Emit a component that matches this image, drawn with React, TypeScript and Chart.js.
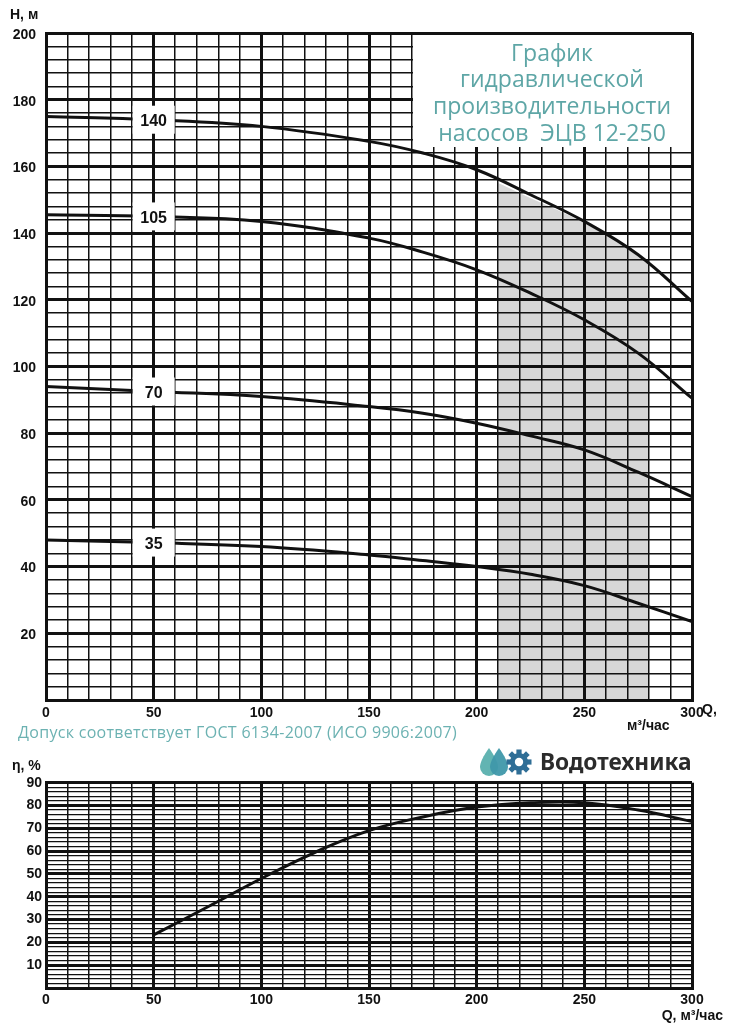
import { useEffect, useRef } from "react"
import { Chart, registerables } from "chart.js"

Chart.register(...registerables)

// Q, м³/час
const flowH = [0, 50, 100, 150, 175, 200, 225, 250, 275, 300]
const head140 = [175, 174, 172, 167.5, 164, 159, 151.5, 143.5, 133.5, 119.5]
const head105 = [145.5, 145, 143.5, 138.5, 134.3, 129, 122, 114, 104, 90.5]
const head70 = [94, 92.5, 91, 88, 86, 83, 79.2, 75, 68.3, 61]
const head35 = [48, 47.2, 46, 43.5, 41.8, 40, 37.7, 34.3, 29, 23.5]
const curveLabels = ["140", "105", "70", "35"]
const labelFlow = 50

// рабочая зона (shaded)
const workFlow = [210, 225, 250, 275, 280]
const workTop = [155, 150.5, 143, 133.5, 131]

// efficiency curve
const flowEta = [50, 75, 100, 125, 150, 175, 200, 225, 250, 275, 300]
const eta = [23.3, 35.5, 48, 59.5, 69, 75, 79.3, 81.2, 81.2, 78, 73]

const qLabels = [0, 50, 100, 150, 200, 250, 300]
const hLabels = [20, 40, 60, 80, 100, 120, 140, 160, 180, 200]
const etaLabels = [10, 20, 30, 40, 50, 60, 70, 80, 90]

const tickFont = { family: "'Liberation Sans', Arial, sans-serif", size: 14, weight: "bold" as const }
const teal = "#5ea6a6"

const toPoints = (xs: number[], ys: number[]) => xs.map((x, i) => ({ x, y: ys[i] }))

function HeadChart() {
  const ref = useRef<HTMLCanvasElement>(null)

  useEffect(() => {
    if (!ref.current) return
    const curves = [head140, head105, head70, head35]
    const li = flowH.indexOf(labelFlow)

    const curveLabelPlugin = {
      id: "curveLabels",
      afterDraw(chart: Chart) {
        const { ctx } = chart
        const xs = chart.scales.x
        const ys = chart.scales.y
        ctx.save()
        curves.forEach((c, i) => {
          const px = xs.getPixelForValue(labelFlow)
          const py = ys.getPixelForValue(c[li])
          ctx.fillStyle = "#fff"
          ctx.fillRect(px - 21, py - 14, 42, 28)
          ctx.fillStyle = "#111"
          ctx.font = "bold 16px 'Liberation Sans', Arial, sans-serif"
          ctx.textAlign = "center"
          ctx.textBaseline = "middle"
          ctx.fillText(curveLabels[i], px, py + 2)
        })
        ctx.restore()
      },
    }

    const line = (data: number[]) => ({
      data: toPoints(flowH, data),
      borderColor: "#111",
      borderWidth: 3,
      pointRadius: 0,
      tension: 0.4,
      fill: false,
    })

    const chart = new Chart(ref.current, {
      type: "line",
      data: {
        datasets: [
          ...curves.map(line),
          {
            data: toPoints(workFlow, workTop),
            borderWidth: 0,
            pointRadius: 0,
            backgroundColor: "#d7d7d7",
            tension: 0.4,
            fill: "origin",
          },
        ],
      },
      options: {
        responsive: false,
        animation: false,
        layout: { padding: { top: 33, right: 50, left: 0, bottom: 0 } },
        plugins: { legend: { display: false }, tooltip: { enabled: false } },
        scales: {
          x: {
            type: "linear",
            min: 0,
            max: 300,
            afterFit: (s: any) => { s.height = 25 },
            ticks: {
              stepSize: 10,
              maxTicksLimit: 1000,
              autoSkip: false,
              maxRotation: 0,
              padding: 5,
              color: "#111",
              font: tickFont,
              callback: (v: any) => (qLabels.includes(Number(v)) ? String(v) : ""),
            },
            grid: {
              z: 1,
              drawTicks: false,
              color: "#111",
              lineWidth: (c: any) => (c.tick && c.tick.value % 50 === 0 ? 3 : 1.5),
            },
            border: { color: "#111", width: 3, z: 1 },
          },
          y: {
            type: "linear",
            min: 0,
            max: 200,
            afterFit: (s: any) => { s.width = 46 },
            ticks: {
              stepSize: 4,
              maxTicksLimit: 1000,
              autoSkip: false,
              padding: 10,
              labelOffset: 2,
              color: "#111",
              font: tickFont,
              callback: (v: any) => (hLabels.includes(Number(v)) ? String(v) : ""),
            },
            grid: {
              z: 1,
              drawTicks: false,
              color: "#111",
              lineWidth: (c: any) => (c.tick && c.tick.value % 20 === 0 ? 3 : 1.5),
            },
            border: { color: "#111", width: 3, z: 1 },
          },
        },
      },
      plugins: [curveLabelPlugin],
    })

    return () => chart.destroy()
  }, [])

  return <canvas ref={ref} width={742} height={725} style={{ position: "absolute", left: 0, top: 0 }} />
}

function EtaChart() {
  const ref = useRef<HTMLCanvasElement>(null)

  useEffect(() => {
    if (!ref.current) return
    const chart = new Chart(ref.current, {
      type: "line",
      data: {
        datasets: [
          {
            data: toPoints(flowEta, eta),
            borderColor: "#111",
            borderWidth: 3,
            pointRadius: 0,
            tension: 0.4,
            fill: false,
          },
        ],
      },
      options: {
        responsive: false,
        animation: false,
        layout: { padding: { top: 12.7, right: 50, left: 0, bottom: 0 } },
        plugins: { legend: { display: false }, tooltip: { enabled: false } },
        scales: {
          x: {
            type: "linear",
            min: 0,
            max: 300,
            afterFit: (s: any) => { s.height = 22 },
            ticks: {
              stepSize: 10,
              maxTicksLimit: 1000,
              autoSkip: false,
              maxRotation: 0,
              padding: 4,
              color: "#111",
              font: tickFont,
              callback: (v: any) => (qLabels.includes(Number(v)) ? String(v) : ""),
            },
            grid: {
              drawTicks: false,
              color: "#111",
              lineWidth: (c: any) => (c.tick && c.tick.value % 50 === 0 ? 3 : 1.5),
            },
            border: { color: "#111", width: 3 },
          },
          y: {
            type: "linear",
            min: 0,
            max: 90,
            afterFit: (s: any) => { s.width = 46 },
            ticks: {
              stepSize: 2,
              maxTicksLimit: 1000,
              autoSkip: false,
              padding: 4,
              color: "#111",
              font: tickFont,
              callback: (v: any) => (etaLabels.includes(Number(v)) ? String(v) : ""),
            },
            grid: {
              drawTicks: false,
              color: "#111",
              lineWidth: (c: any) => (c.tick && c.tick.value % 10 === 0 ? 3 : 1.3),
            },
            border: { color: "#111", width: 3 },
          },
        },
      },
    })

    return () => chart.destroy()
  }, [])

  return <canvas ref={ref} width={742} height={240} style={{ position: "absolute", left: 0, top: 770 }} />
}

function Logo() {
  const teeth = [0, 45, 90, 135, 180, 225, 270, 315]
  return (
    <div style={{ position: "absolute", left: 479, top: 747, display: "flex", alignItems: "center" }}>
      <svg width={54} height={30} viewBox="0 0 54 30">
        <path d="M10 1 C10 1 1 13 1 20 A9 9 0 0 0 19 20 C19 13 10 1 10 1 Z" fill="#62b4b2" />
        <path d="M20 1 C20 1 11 13 11 20 A9 9 0 0 0 29 20 C29 13 20 1 20 1 Z" fill="#3f98aa" opacity={0.95} />
        <g transform="translate(40 15)">
          {teeth.map((a) => (
            <rect key={a} x={-2.6} y={-12.5} width={5.2} height={6} fill="#2f6e96" transform={`rotate(${a})`} />
          ))}
          <circle r={9} fill="#2f6e96" />
          <circle r={4.2} fill="#fff" />
        </g>
      </svg>
      <span
        style={{
          marginLeft: 7,
          fontFamily: "'Noto Sans', sans-serif",
          fontWeight: 700,
          fontSize: 22.7,
          color: "#2b2b2b",
          lineHeight: "30px",
        }}
      >
        Водотехника
      </span>
    </div>
  )
}

export default function App() {
  const bold = { fontFamily: "'Liberation Sans', Arial, sans-serif", fontWeight: 700, color: "#111", position: "absolute" as const }
  return (
    <div style={{ position: "absolute", left: 0, top: 0, width: 742, height: 1024, background: "#fff", overflow: "hidden" }}>
      <HeadChart />
      <EtaChart />
      <div style={{ ...bold, left: 10, top: 5, fontSize: 14, lineHeight: "18px" }}>H, м</div>
      <div style={{ ...bold, left: 702, top: 700, fontSize: 14, lineHeight: "18px" }}>Q,</div>
      <div style={{ ...bold, left: 627, top: 716, fontSize: 14, lineHeight: "18px" }}>м³/час</div>
      <div style={{ ...bold, left: 12, top: 756, fontSize: 14, lineHeight: "18px" }}>η, %</div>
      <div style={{ ...bold, left: 600, width: 123, textAlign: "right", top: 1006, fontSize: 14, lineHeight: "18px" }}>
        Q, м³/час
      </div>
      <div
        style={{
          position: "absolute",
          left: 413,
          top: 35,
          width: 278,
          height: 112,
          background: "#fff",
          color: teal,
          fontFamily: "'Open Sans', sans-serif",
          fontSize: 23,
          lineHeight: "26.7px",
          textAlign: "center",
          paddingTop: 3.5,
          boxSizing: "border-box",
          whiteSpace: "pre",
        }}
      >
        {"График\nгидравлической\nпроизводительности\nнасосов  ЭЦВ 12-250"}
      </div>
      <div
        style={{
          position: "absolute",
          left: 18,
          top: 722,
          fontFamily: "'Open Sans', sans-serif",
          fontSize: 16,
          letterSpacing: 0.3,
          lineHeight: "20px",
          color: "#6cb2b2",
          whiteSpace: "nowrap",
        }}
      >
        Допуск соответствует ГОСТ 6134-2007 (ИСО 9906:2007)
      </div>
      <Logo />
    </div>
  )
}
